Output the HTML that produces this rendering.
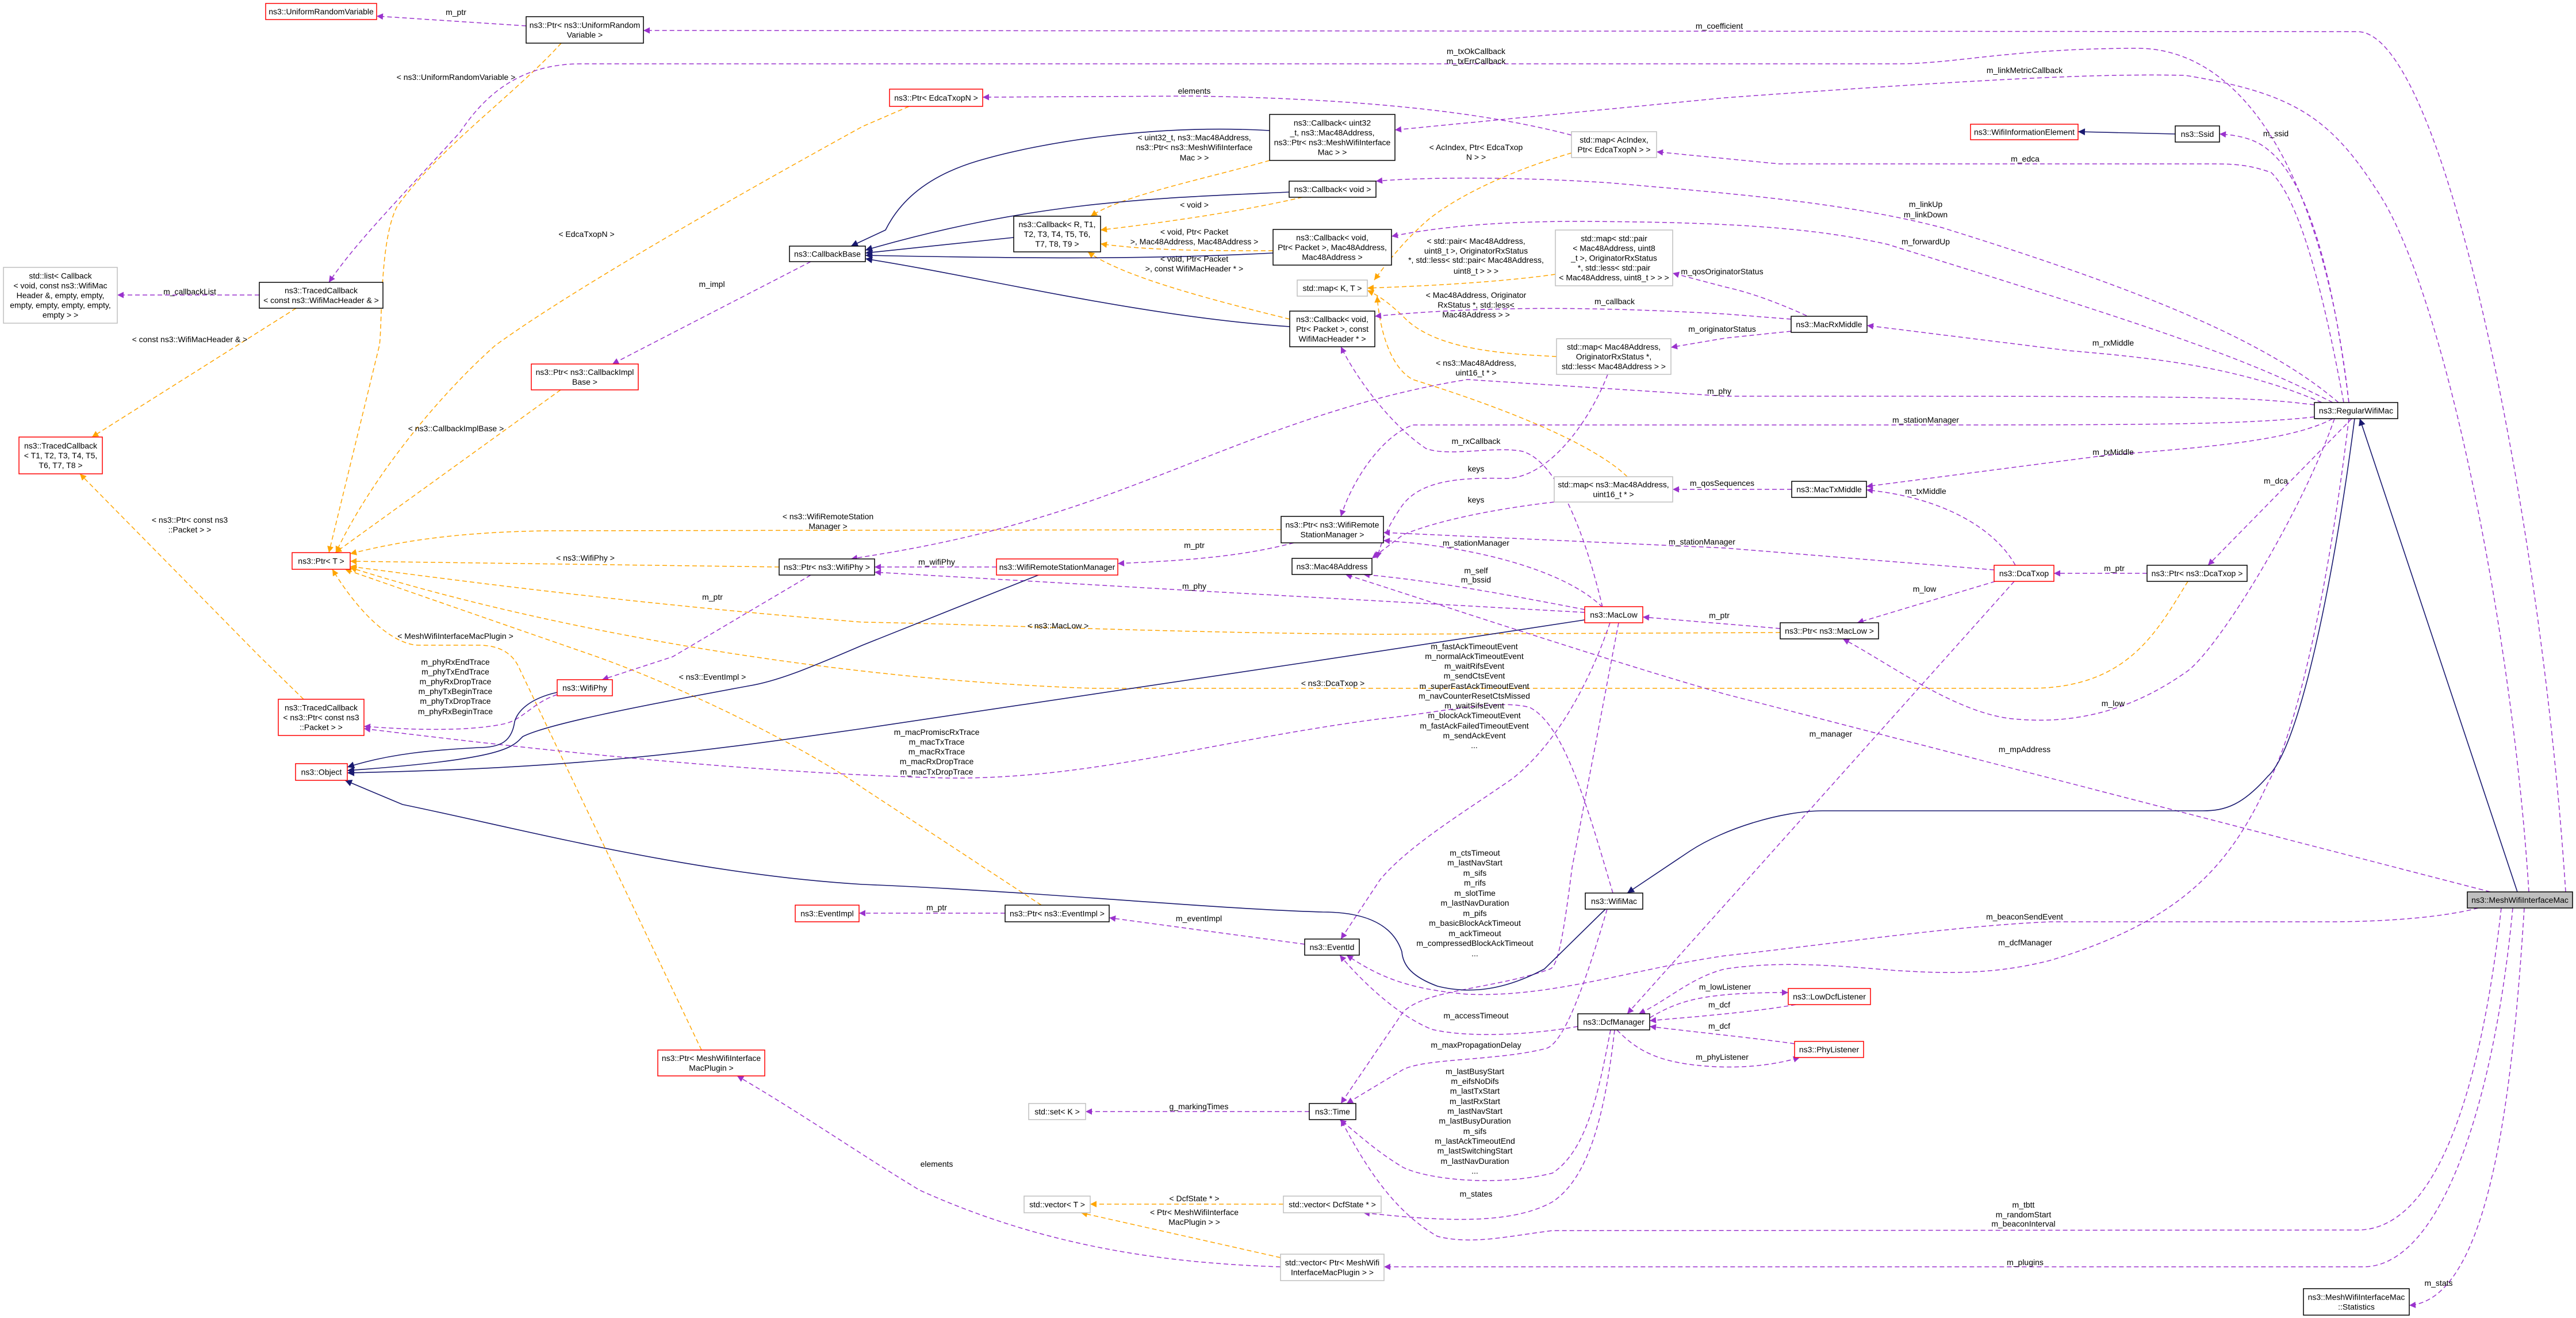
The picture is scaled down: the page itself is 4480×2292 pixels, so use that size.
<!DOCTYPE html>
<html><head><meta charset="utf-8"><style>
html,body{margin:0;padding:0;background:#fff}
svg{display:block}
text{font-family:"Liberation Sans",Arial,sans-serif;font-size:14px;fill:#000;dominant-baseline:central;text-anchor:middle}
.p{fill:none;stroke:#9a32cd;stroke-width:1.5;stroke-dasharray:8,5;marker-end:url(#mp)}
.o{fill:none;stroke:#ffa500;stroke-width:1.5;stroke-dasharray:8,5;marker-end:url(#mo)}
.n{fill:none;stroke:#191970;stroke-width:1.6;marker-end:url(#mn)}
.r{fill:#fff;stroke:#ff0000;stroke-width:1.5}
.k{fill:#fff;stroke:#000;stroke-width:1.5}
.g{fill:#fff;stroke:#bfbfbf;stroke-width:1.5}
</style></head><body>
<svg width="4480" height="2292" viewBox="0 0 4480 2292" xmlns="http://www.w3.org/2000/svg">
<defs>
<marker id="mp" viewBox="0 0 10 10" refX="10" refY="5" markerWidth="16" markerHeight="11" markerUnits="userSpaceOnUse" orient="auto"><path d="M0,0L10,5L0,10z" fill="#9a32cd"/></marker>
<marker id="mo" viewBox="0 0 10 10" refX="10" refY="5" markerWidth="16" markerHeight="11" markerUnits="userSpaceOnUse" orient="auto"><path d="M0,0L10,5L0,10z" fill="#ffa500"/></marker>
<marker id="mn" viewBox="0 0 10 10" refX="10" refY="5" markerWidth="18" markerHeight="12" markerUnits="userSpaceOnUse" orient="auto"><path d="M0,0L10,5L0,10z" fill="#191970"/></marker>
</defs>

<!-- edges -->
<path class="p" d="M915,45 L655,28"/>
<path class="p" d="M4462,1551 C4420,900 4250,55 4100,55 L1119,53"/>
<path class="o" d="M976,75 C900,160 760,260 690,360 C660,420 665,560 660,600 L572,961"/>
<path class="p" d="M4085,700 C4040,300 3900,84 3717,84 C3500,84 3400,111 3300,111 L1010,111 C900,111 840,170 800,230 C700,340 620,420 572,491"/>
<path class="p" d="M451,513 L204,513"/>
<path class="o" d="M515,536 L160,760"/>
<path class="o" d="M528,1216 L450,1140 L139,824"/>
<path class="o" d="M1581,185 L1500,220 C1300,330 1000,500 861,601 C750,700 640,843 584,961"/>
<path class="p" d="M1410,455 L1065,633"/>
<path class="o" d="M975,678 L583,961"/>
<path class="o" d="M2228,921 L957,923 C800,925 700,940 609,963"/>
<path class="o" d="M1355,986 L609,976"/>
<path class="o" d="M3096,1100 L2400,1103 C2000,1100 1700,1085 1500,1082 C1100,1050 800,1010 609,985"/>
<path class="o" d="M3805,1011 C3750,1100 3700,1197 3530,1197 L1900,1197 C1400,1180 900,1080 609,987"/>
<path class="o" d="M1220,1826 L904,1164 C890,1130 860,1122 832,1122 L727,1122 C680,1120 622,1063 578,990"/>
<path class="o" d="M1811,1574 L1500,1370 C1400,1300 1200,1200 1038,1142 L600,990"/>
<path class="p" d="M1410,1000 L1170,1142 L1047,1182"/>
<path class="p" d="M969,1208 C930,1220 910,1250 880,1258 C820,1272 720,1270 633,1263"/>
<path class="p" d="M2805,1553 C2760,1400 2720,1260 2660,1230 C2600,1215 2500,1240 2400,1250 C2100,1290 1900,1355 1650,1353 C1300,1345 900,1300 633,1267"/>
<path class="p" d="M2800,1083 C2760,1200 2700,1300 2629,1355 C2550,1410 2450,1470 2400,1530 L2332,1633"/>
<path class="p" d="M2815,1083 L2734,1509 C2720,1620 2710,1680 2696,1685 C2600,1720 2480,1720 2440,1760 L2332,1919"/>
<path class="p" d="M2801,1791 C2780,1900 2760,2000 2700,2040 C2600,2065 2480,2050 2440,2030 C2390,2000 2360,1970 2330,1947"/>
<path class="p" d="M2795,1581 C2760,1700 2720,1820 2686,1824 C2600,1845 2480,1840 2440,1860 L2342,1919"/>
<path class="p" d="M2744,1785 C2660,1800 2552,1805 2490,1790 C2440,1770 2380,1720 2330,1661"/>
<path class="p" d="M2269,1642 L1929,1596"/>
<path class="p" d="M1748,1588 L1494,1588"/>
<path class="p" d="M2277,1933 L1888,1933"/>
<path class="o" d="M2232,2094 L1896,2094"/>
<path class="o" d="M2227,2187 L1880,2109"/>
<path class="p" d="M2227,2203 C2000,2196 1800,2160 1600,2070 C1500,2010 1400,1940 1282,1871"/>
<path class="p" d="M2808,1791 C2790,1950 2760,2050 2700,2090 C2620,2135 2480,2120 2371,2109"/>
<path class="p" d="M4370,1579 C4340,1900 4250,2203 4110,2203 L2407,2203"/>
<path class="p" d="M4350,1579 C4320,1850 4250,2139 4100,2139 L2700,2140 C2620,2150 2560,2165 2500,2150 C2430,2110 2380,2040 2332,1947"/>
<path class="p" d="M4390,1579 C4370,1900 4330,2260 4190,2270"/>
<path class="p" d="M4310,1579 C4250,1595 4150,1603 4050,1603 L3566,1603 C3400,1610 3200,1640 3000,1662 C2840,1685 2700,1735 2552,1729 C2450,1720 2400,1700 2342,1661"/>
<path class="p" d="M4085,728 C4040,1100 3980,1300 3944,1362 C3880,1500 3800,1600 3566,1670 C3450,1700 3350,1690 3300,1688 C3200,1680 3100,1670 3000,1685 C2940,1700 2900,1740 2850,1763"/>
<path class="p" d="M3503,1011 L2830,1763"/>
<path class="p" d="M4331,1551 L3000,1207 C2800,1150 2500,1050 2340,999"/>
<path class="p" d="M3505,983 C3470,920 3380,865 3246,852"/>
<path class="p" d="M3468,991 L3000,953 L2406,926"/>
<path class="p" d="M2787,1056 C2720,990 2560,950 2406,940"/>
<path class="p" d="M3470,1011 L3230,1083"/>
<path class="p" d="M3734,997 L3572,997"/>
<path class="p" d="M4090,728 L3840,983"/>
<path class="p" d="M3096,1093 L2857,1073"/>
<path class="p" d="M4060,728 C4000,900 3850,1140 3800,1170 C3700,1240 3600,1260 3500,1250 C3400,1240 3280,1150 3205,1111"/>
<path class="p" d="M4057,728 C3980,770 3800,780 3661,792 L3246,846"/>
<path class="p" d="M3116,851 L2909,851"/>
<path class="p" d="M4025,725 C3900,739 3700,739 3300,739 L2457,739 C2400,760 2350,840 2332,898"/>
<path class="p" d="M4025,704 C3900,689 3849,689 3000,689 L2552,660 C2300,700 2100,800 1900,870 C1700,940 1550,960 1480,972"/>
<path class="o" d="M2830,829 C2780,780 2650,720 2457,660 C2420,640 2400,580 2395,515"/>
<path class="p" d="M2756,1065 L2074,1027 L1521,995"/>
<path class="p" d="M1733,986 L1521,986"/>
<path class="p" d="M2250,944 C2150,970 2050,975 1944,980"/>
<path class="p" d="M4085,700 C4060,500 4020,320 3944,260 C3920,240 3890,235 3860,233"/>
<path class="p" d="M4076,700 C4030,450 3990,340 3950,300 C3920,290 3900,285 3850,285 L3094,285 L2881,264"/>
<path class="p" d="M4398,1551 C4370,1100 4250,500 4133,330 C4050,200 3982,161 3800,131 C3650,128 3472,136 3000,170 L2426,226"/>
<path class="p" d="M2733,235 C2600,200 2400,172 2074,167 L1709,169"/>
<path class="o" d="M2733,266 C2650,290 2550,330 2485,381 C2440,420 2410,460 2390,487"/>
<path class="o" d="M2705,477 C2650,485 2550,495 2378,501"/>
<path class="o" d="M2707,620 C2600,615 2500,605 2447,557 C2420,530 2400,515 2378,505"/>
<path class="p" d="M3142,549 C3100,530 3050,510 3000,499 L2909,475"/>
<path class="p" d="M3115,576 L3000,588 L2906,604"/>
<path class="p" d="M3115,555 L3000,546 C2800,535 2600,530 2391,550"/>
<path class="p" d="M4038,700 C3900,640 3755,623 3600,610 L3247,566"/>
<path class="p" d="M4067,700 C3950,600 3755,513 3378,396 C3200,350 3000,336 2800,318 C2600,305 2450,310 2393,315"/>
<path class="p" d="M4057,700 C3900,620 3755,572 3283,425 C3150,395 3000,386 2744,385 C2600,385 2500,395 2420,411"/>
<path class="o" d="M2208,279 C2100,310 1950,340 1897,376"/>
<path class="o" d="M2265,343 C2150,370 2000,390 1914,400"/>
<path class="o" d="M2214,436 C2100,436 2000,436 1914,424"/>
<path class="o" d="M2243,555 C2100,520 1950,480 1892,438"/>
<path class="p" d="M2787,1056 C2750,900 2700,800 2648,785 C2600,775 2520,795 2480,780 C2420,740 2360,660 2332,603"/>
<path class="p" d="M2756,1060 C2650,1040 2500,1010 2371,999"/>
<path class="p" d="M2796,651 C2770,720 2700,830 2620,832 C2540,830 2470,835 2438,880 C2410,920 2400,950 2395,971"/>
<path class="p" d="M2703,873 C2600,885 2500,905 2440,930 L2386,971"/>
<path class="p" d="M2869,1770 C2920,1740 2960,1726 3110,1726"/>
<path class="p" d="M3123,1747 C3050,1760 2950,1768 2869,1775"/>
<path class="p" d="M3121,1815 C3050,1805 2950,1795 2869,1785"/>
<path class="p" d="M2812,1791 C2850,1830 2889,1850 2983,1855 C3050,1858 3100,1848 3130,1839"/>
<!-- inheritance -->
<path class="n" d="M1806,1000 L1500,1122 C1400,1165 1350,1185 1301,1193 C1100,1230 950,1260 909,1281 C890,1300 880,1320 604,1340"/>
<path class="n" d="M969,1204 C920,1215 900,1237 895,1255 C890,1290 870,1300 832,1300 C750,1305 680,1310 604,1334"/>
<path class="n" d="M2756,1078 L2284,1150 L1500,1267 C1200,1310 1000,1336 604,1344"/>
<path class="n" d="M2792,1581 L2686,1685 C2620,1720 2560,1730 2500,1715 C2457,1699 2440,1680 2438,1655 C2420,1600 2361,1586 2300,1586 C2100,1580 1800,1550 1500,1538 C1200,1520 900,1440 700,1399 L600,1357"/>
<path class="n" d="M4095,728 C4060,1000 4000,1300 3944,1350 C3900,1400 3870,1410 3831,1410 L3170,1410 C3100,1410 3000,1440 2939,1480 L2830,1553"/>
<path class="n" d="M4378,1551 L4104,728"/>
<path class="n" d="M3783,233 L3614,229"/>
<path class="n" d="M2208,227 C2000,215 1800,250 1700,280 C1600,310 1560,360 1540,400 L1480,428"/>
<path class="n" d="M2242,334 C2000,345 1800,350 1505,435"/>
<path class="n" d="M1763,413 L1505,440"/>
<path class="n" d="M2214,440 C2000,451 1800,450 1505,444"/>
<path class="n" d="M2243,568 C1978,550 1700,480 1505,450"/>

<!-- edge labels -->
<text x="793" y="21">m_ptr</text>
<text x="2990" y="45">m_coefficient</text>
<text x="793" y="134">&lt; ns3::UniformRandomVariable &gt;</text>
<text x="2567" y="89">m_txOkCallback</text><text x="2567" y="106">m_txErrCallback</text>
<text x="330" y="507">m_callbackList</text>
<text x="330" y="590">&lt; const ns3::WifiMacHeader &amp; &gt;</text>
<text x="330" y="904">&lt; ns3::Ptr&lt; const ns3</text><text x="330" y="921">::Packet &gt; &gt;</text>
<text x="1020" y="407">&lt; EdcaTxopN &gt;</text>
<text x="1238" y="494">m_impl</text>
<text x="793" y="745">&lt; ns3::CallbackImplBase &gt;</text>
<text x="1440" y="898">&lt; ns3::WifiRemoteStation</text><text x="1440" y="915">Manager &gt;</text>
<text x="1018" y="970">&lt; ns3::WifiPhy &gt;</text>
<text x="1840" y="1088">&lt; ns3::MacLow &gt;</text>
<text x="2318" y="1188">&lt; ns3::DcaTxop &gt;</text>
<text x="792" y="1106">&lt; MeshWifiInterfaceMacPlugin &gt;</text>
<text x="1239" y="1177">&lt; ns3::EventImpl &gt;</text>
<text x="1239" y="1038">m_ptr</text>
<text x="792" y="1151">m_phyRxEndTrace</text><text x="792" y="1168">m_phyTxEndTrace</text><text x="792" y="1185">m_phyRxDropTrace</text><text x="792" y="1202">m_phyTxBeginTrace</text><text x="792" y="1219">m_phyTxDropTrace</text><text x="792" y="1237">m_phyRxBeginTrace</text>
<text x="1629" y="1273">m_macPromiscRxTrace</text><text x="1629" y="1290">m_macTxTrace</text><text x="1629" y="1307">m_macRxTrace</text><text x="1629" y="1324">m_macRxDropTrace</text><text x="1629" y="1342">m_macTxDropTrace</text>
<text x="2564" y="1124">m_fastAckTimeoutEvent</text><text x="2564" y="1141">m_normalAckTimeoutEvent</text><text x="2564" y="1158">m_waitRifsEvent</text><text x="2564" y="1175">m_sendCtsEvent</text><text x="2564" y="1193">m_superFastAckTimeoutEvent</text><text x="2564" y="1210">m_navCounterResetCtsMissed</text><text x="2564" y="1227">m_waitSifsEvent</text><text x="2564" y="1244">m_blockAckTimeoutEvent</text><text x="2564" y="1262">m_fastAckFailedTimeoutEvent</text><text x="2564" y="1279">m_sendAckEvent</text><text x="2564" y="1296">...</text>
<text x="2565" y="1483">m_ctsTimeout</text><text x="2565" y="1500">m_lastNavStart</text><text x="2565" y="1518">m_sifs</text><text x="2565" y="1535">m_rifs</text><text x="2565" y="1553">m_slotTime</text><text x="2565" y="1570">m_lastNavDuration</text><text x="2565" y="1588">m_pifs</text><text x="2565" y="1605">m_basicBlockAckTimeout</text><text x="2565" y="1623">m_ackTimeout</text><text x="2565" y="1640">m_compressedBlockAckTimeout</text><text x="2565" y="1658">...</text>
<text x="2565" y="1863">m_lastBusyStart</text><text x="2565" y="1880">m_eifsNoDifs</text><text x="2565" y="1897">m_lastTxStart</text><text x="2565" y="1915">m_lastRxStart</text><text x="2565" y="1932">m_lastNavStart</text><text x="2565" y="1949">m_lastBusyDuration</text><text x="2565" y="1967">m_sifs</text><text x="2565" y="1984">m_lastAckTimeoutEnd</text><text x="2565" y="2001">m_lastSwitchingStart</text><text x="2565" y="2019">m_lastNavDuration</text><text x="2565" y="2036">...</text>
<text x="2567" y="1817">m_maxPropagationDelay</text>
<text x="2567" y="1766">m_accessTimeout</text>
<text x="2085" y="1597">m_eventImpl</text>
<text x="1629" y="1578">m_ptr</text>
<text x="2085" y="1924">g_markingTimes</text>
<text x="2077" y="2084">&lt; DcfState * &gt;</text>
<text x="2077" y="2108">&lt; Ptr&lt; MeshWifiInterface</text><text x="2077" y="2125">MacPlugin &gt; &gt;</text>
<text x="1629" y="2024">elements</text>
<text x="2567" y="2076">m_states</text>
<text x="3522" y="2195">m_plugins</text>
<text x="3519" y="2095">m_tbtt</text><text x="3519" y="2112">m_randomStart</text><text x="3519" y="2128">m_beaconInterval</text>
<text x="4241" y="2231">m_stats</text>
<text x="3521" y="1594">m_beaconSendEvent</text>
<text x="3522" y="1639">m_dcfManager</text>
<text x="3184" y="1276">m_manager</text>
<text x="3521" y="1303">m_mpAddress</text>
<text x="3349" y="854">m_txMiddle</text>
<text x="2960" y="942">m_stationManager</text>
<text x="2567" y="944">m_stationManager</text>
<text x="3347" y="1024">m_low</text>
<text x="3677" y="988">m_ptr</text>
<text x="3958" y="836">m_dca</text>
<text x="2990" y="1070">m_ptr</text>
<text x="3675" y="1223">m_low</text>
<text x="3675" y="786">m_txMiddle</text>
<text x="2995" y="840">m_qosSequences</text>
<text x="3349" y="730">m_stationManager</text>
<text x="2990" y="680">m_phy</text>
<text x="2567" y="631">&lt; ns3::Mac48Address,</text><text x="2567" y="648">uint16_t * &gt;</text>
<text x="2077" y="1019">m_phy</text>
<text x="1629" y="977">m_wifiPhy</text>
<text x="2077" y="948">m_ptr</text>
<text x="3958" y="232">m_ssid</text>
<text x="3522" y="276">m_edca</text>
<text x="3521" y="122">m_linkMetricCallback</text>
<text x="2077" y="158">elements</text>
<text x="2567" y="256">&lt; AcIndex, Ptr&lt; EdcaTxop</text><text x="2567" y="273">N &gt; &gt;</text>
<text x="2567" y="419">&lt; std::pair&lt; Mac48Address,</text><text x="2567" y="436">uint8_t &gt;, OriginatorRxStatus</text><text x="2567" y="452">*, std::less&lt; std::pair&lt; Mac48Address,</text><text x="2567" y="471">uint8_t &gt; &gt; &gt;</text>
<text x="2567" y="513">&lt; Mac48Address, Originator</text><text x="2567" y="530">RxStatus *, std::less&lt;</text><text x="2567" y="547">Mac48Address &gt; &gt;</text>
<text x="2995" y="472">m_qosOriginatorStatus</text>
<text x="2995" y="572">m_originatorStatus</text>
<text x="2808" y="524">m_callback</text>
<text x="3675" y="596">m_rxMiddle</text>
<text x="3349" y="355">m_linkUp</text><text x="3349" y="373">m_linkDown</text>
<text x="3349" y="420">m_forwardUp</text>
<text x="2077" y="239">&lt; uint32_t, ns3::Mac48Address,</text><text x="2077" y="256">ns3::Ptr&lt; ns3::MeshWifiInterface</text><text x="2077" y="274">Mac &gt; &gt;</text>
<text x="2077" y="356">&lt; void &gt;</text>
<text x="2077" y="403">&lt; void, Ptr&lt; Packet</text><text x="2077" y="420">&gt;, Mac48Address, Mac48Address &gt;</text>
<text x="2077" y="450">&lt; void, Ptr&lt; Packet</text><text x="2077" y="467">&gt;, const WifiMacHeader * &gt;</text>
<text x="2567" y="767">m_rxCallback</text>
<text x="2567" y="992">m_self</text><text x="2567" y="1008">m_bssid</text>
<text x="2567" y="815">keys</text>
<text x="2567" y="869">keys</text>
<text x="3000" y="1716">m_lowListener</text>
<text x="2990" y="1747">m_dcf</text>
<text x="2990" y="1784">m_dcf</text>
<text x="2995" y="1838">m_phyListener</text>

<!-- nodes -->
<rect class="r" x="462" y="6" width="193" height="28"/><text x="558.5" y="20">ns3::UniformRandomVariable</text>
<rect class="k" x="915" y="29" width="204" height="46"/><text x="1017" y="43.5">ns3::Ptr&lt; ns3::UniformRandom</text><text x="1017" y="60.5">Variable &gt;</text>
<rect class="k" x="1373" y="428" width="132" height="27"/><text x="1439" y="441.5">ns3::CallbackBase</text>
<rect class="g" x="6" y="465" width="198" height="97"/><text x="105" y="479.5">std::list&lt; Callback</text><text x="105" y="496.5">&lt; void, const ns3::WifiMac</text><text x="105" y="513.5">Header &amp;, empty, empty,</text><text x="105" y="530.5">empty, empty, empty, empty,</text><text x="105" y="547.5">empty &gt; &gt;</text>
<rect class="k" x="451" y="491" width="215" height="45"/><text x="558.5" y="505">ns3::TracedCallback</text><text x="558.5" y="522">&lt; const ns3::WifiMacHeader &amp; &gt;</text>
<rect class="r" x="924" y="633" width="186" height="45"/><text x="1017" y="647">ns3::Ptr&lt; ns3::CallbackImpl</text><text x="1017" y="664">Base &gt;</text>
<rect class="r" x="33" y="760" width="145" height="64"/><text x="105.5" y="775">ns3::TracedCallback</text><text x="105.5" y="792">&lt; T1, T2, T3, T4, T5,</text><text x="105.5" y="809">T6, T7, T8 &gt;</text>
<rect class="r" x="508" y="961" width="101" height="29"/><text x="558.5" y="975.5">ns3::Ptr&lt; T &gt;</text>
<rect class="k" x="1355" y="972" width="166" height="28"/><text x="1438" y="986">ns3::Ptr&lt; ns3::WifiPhy &gt;</text>
<rect class="r" x="1547" y="155" width="162" height="30"/><text x="1628" y="170">ns3::Ptr&lt; EdcaTxopN &gt;</text>
<rect class="k" x="2208" y="199" width="218" height="80"/><text x="2317" y="213.5">ns3::Callback&lt; uint32</text><text x="2317" y="230.5">_t, ns3::Mac48Address,</text><text x="2317" y="247.5">ns3::Ptr&lt; ns3::MeshWifiInterface</text><text x="2317" y="264.5">Mac &gt; &gt;</text>
<rect class="g" x="2733" y="229" width="148" height="45"/><text x="2807" y="243">std::map&lt; AcIndex,</text><text x="2807" y="260">Ptr&lt; EdcaTxopN &gt; &gt;</text>
<rect class="k" x="2242" y="315" width="151" height="28"/><text x="2317.5" y="329">ns3::Callback&lt; void &gt;</text>
<rect class="k" x="1763" y="376" width="151" height="62"/><text x="1838.5" y="390">ns3::Callback&lt; R, T1,</text><text x="1838.5" y="407">T2, T3, T4, T5, T6,</text><text x="1838.5" y="424">T7, T8, T9 &gt;</text>
<rect class="k" x="2214" y="399" width="206" height="62"/><text x="2317" y="413">ns3::Callback&lt; void,</text><text x="2317" y="430">Ptr&lt; Packet &gt;, Mac48Address,</text><text x="2317" y="447">Mac48Address &gt;</text>
<rect class="g" x="2705" y="400" width="204" height="97"/><text x="2807" y="414.5">std::map&lt; std::pair</text><text x="2807" y="431.5">&lt; Mac48Address, uint8</text><text x="2807" y="448.5">_t &gt;, OriginatorRxStatus</text><text x="2807" y="465.5"> *, std::less&lt; std::pair</text><text x="2807" y="482.5">&lt; Mac48Address, uint8_t &gt; &gt; &gt;</text>
<rect class="g" x="2256" y="487" width="122" height="28"/><text x="2317" y="501">std::map&lt; K, T &gt;</text>
<rect class="k" x="2243" y="541" width="148" height="62"/><text x="2317" y="555">ns3::Callback&lt; void,</text><text x="2317" y="572">Ptr&lt; Packet &gt;, const</text><text x="2317" y="589">WifiMacHeader * &gt;</text>
<rect class="g" x="2707" y="589" width="199" height="62"/><text x="2806.5" y="603">std::map&lt; Mac48Address,</text><text x="2806.5" y="620">OriginatorRxStatus *,</text><text x="2806.5" y="637">std::less&lt; Mac48Address &gt; &gt;</text>
<rect class="g" x="2703" y="829" width="206" height="44"/><text x="2806" y="842.5">std::map&lt; ns3::Mac48Address,</text><text x="2806" y="859.5">uint16_t * &gt;</text>
<rect class="k" x="2228" y="898" width="178" height="46"/><text x="2317" y="912.5">ns3::Ptr&lt; ns3::WifiRemote</text><text x="2317" y="929.5">StationManager &gt;</text>
<rect class="r" x="1733" y="972" width="211" height="28"/><text x="1838.5" y="986">ns3::WifiRemoteStationManager</text>
<rect class="k" x="2247" y="971" width="139" height="28"/><text x="2316.5" y="985">ns3::Mac48Address</text>
<rect class="r" x="2756" y="1055" width="101" height="28"/><text x="2806.5" y="1069">ns3::MacLow</text>
<rect class="r" x="3427" y="216" width="187" height="27"/><text x="3520.5" y="229.5">ns3::WifiInformationElement</text>
<rect class="k" x="3783" y="219" width="77" height="28"/><text x="3821.5" y="233">ns3::Ssid</text>
<rect class="k" x="3115" y="550" width="132" height="28"/><text x="3181" y="564">ns3::MacRxMiddle</text>
<rect class="k" x="4025" y="700" width="145" height="28"/><text x="4097.5" y="714">ns3::RegularWifiMac</text>
<rect class="k" x="3116" y="837" width="130" height="28"/><text x="3181" y="851">ns3::MacTxMiddle</text>
<rect class="r" x="3468" y="983" width="104" height="28"/><text x="3520" y="997">ns3::DcaTxop</text>
<rect class="k" x="3734" y="983" width="174" height="28"/><text x="3821" y="997">ns3::Ptr&lt; ns3::DcaTxop &gt;</text>
<rect class="k" x="3096" y="1083" width="171" height="28"/><text x="3181.5" y="1097">ns3::Ptr&lt; ns3::MacLow &gt;</text>
<rect class="r" x="484" y="1216" width="149" height="63"/><text x="558.5" y="1230.5">ns3::TracedCallback</text><text x="558.5" y="1247.5">&lt; ns3::Ptr&lt; const ns3</text><text x="558.5" y="1264.5">::Packet &gt; &gt;</text>
<rect class="r" x="514" y="1328" width="90" height="29"/><text x="559" y="1342.5">ns3::Object</text>
<rect class="r" x="969" y="1182" width="96" height="28"/><text x="1017" y="1196">ns3::WifiPhy</text>
<rect class="r" x="1383" y="1574" width="111" height="29"/><text x="1438.5" y="1588.5">ns3::EventImpl</text>
<rect class="r" x="1144" y="1826" width="186" height="45"/><text x="1237" y="1840">ns3::Ptr&lt; MeshWifiInterface</text><text x="1237" y="1857">MacPlugin &gt;</text>
<rect class="k" x="1748" y="1574" width="181" height="29"/><text x="1838.5" y="1588.5">ns3::Ptr&lt; ns3::EventImpl &gt;</text>
<rect class="k" x="2269" y="1633" width="95" height="28"/><text x="2316.5" y="1647">ns3::EventId</text>
<rect class="k" x="2757" y="1553" width="100" height="28"/><text x="2807" y="1567">ns3::WifiMac</text>
<rect class="k" x="2744" y="1763" width="125" height="28"/><text x="2806.5" y="1777">ns3::DcfManager</text>
<rect class="k" x="2277" y="1919" width="81" height="28"/><text x="2317.5" y="1933">ns3::Time</text>
<rect class="g" x="1789" y="1919" width="99" height="28"/><text x="1838.5" y="1933">std::set&lt; K &gt;</text>
<rect class="g" x="1781" y="2080" width="115" height="29"/><text x="1838.5" y="2094.5">std::vector&lt; T &gt;</text>
<rect class="g" x="2232" y="2080" width="170" height="29"/><text x="2317" y="2094.5">std::vector&lt; DcfState * &gt;</text>
<rect class="g" x="2227" y="2181" width="180" height="46"/><text x="2317" y="2195.5">std::vector&lt; Ptr&lt; MeshWifi</text><text x="2317" y="2212.5">InterfaceMacPlugin &gt; &gt;</text>
<rect x="4291" y="1551" width="183" height="28" fill="#bfbfbf" stroke="#000" stroke-width="1.5"/><text x="4382.5" y="1565">ns3::MeshWifiInterfaceMac</text>
<rect class="r" x="3110" y="1719" width="143" height="28"/><text x="3181.5" y="1733">ns3::LowDcfListener</text>
<rect class="r" x="3121" y="1811" width="120" height="28"/><text x="3181" y="1825">ns3::PhyListener</text>
<rect class="k" x="4006" y="2241" width="184" height="46"/><text x="4098" y="2255.5">ns3::MeshWifiInterfaceMac</text><text x="4098" y="2272.5">::Statistics</text>
</svg>
</body></html>
